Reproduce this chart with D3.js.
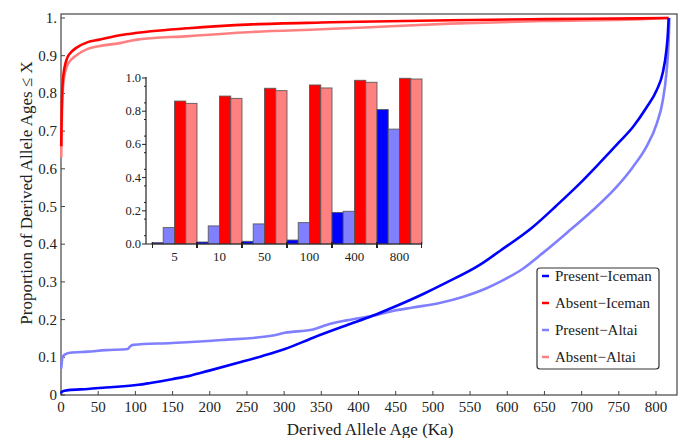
<!DOCTYPE html>
<html><head><meta charset="utf-8">
<script src="https://cdn.jsdelivr.net/npm/d3@7"></script>
<style>body{margin:0;background:#fff}svg{display:block}</style>
</head><body><svg id="c" width="683" height="438"></svg>
<script>
const seriesNames = ["Present\u2212Iceman","Absent\u2212Iceman","Present\u2212Altai","Absent\u2212Altai"];
const colors = ["#0000ff","#ff0000","#8080ff","#ff8080"];
const presentIceman = [[0.3,0.004],[1,0.009],[10,0.013],[36,0.016],[60,0.02],[104,0.027],[120,0.032],[149,0.042],[175,0.052],[198,0.064],[243,0.088],[270,0.103],[301,0.122],[339,0.152],[384,0.185],[419,0.21],[446,0.232],[487,0.268],[518,0.298],[563,0.345],[590,0.382],[634,0.445],[666,0.502],[697,0.56],[724,0.615],[751,0.672],[769,0.711],[787,0.762],[801,0.809],[809,0.854],[814,0.915],[816,0.96],[817,1.0]];
const absentIceman = [[0.3,0.66],[1,0.76],[2,0.82],[4,0.86],[6,0.88],[9,0.897],[14,0.91],[20,0.92],[36,0.936],[50,0.942],[81,0.955],[100,0.96],[171,0.973],[257,0.983],[350,0.988],[400,0.99],[523,0.994],[650,0.997],[780,0.999],[817,1.0]];
const presentAltai = [[0.3,0.07],[2,0.1],[5,0.107],[12,0.112],[36,0.115],[60,0.119],[90,0.122],[92,0.127],[97,0.133],[149,0.138],[216,0.146],[283,0.157],[301,0.165],[339,0.174],[357,0.186],[384,0.198],[419,0.21],[446,0.223],[473,0.232],[509,0.244],[540,0.26],[572,0.283],[590,0.3],[621,0.335],[648,0.377],[680,0.43],[715,0.49],[747,0.552],[769,0.605],[787,0.658],[801,0.72],[809,0.78],[814,0.854],[817,0.94],[818,1.0]];
const absentAltai = [[0.3,0.63],[1,0.72],[2,0.79],[4,0.84],[6,0.86],[9,0.877],[14,0.89],[20,0.9],[36,0.918],[50,0.925],[81,0.934],[100,0.942],[171,0.952],[257,0.963],[350,0.97],[400,0.974],[523,0.985],[650,0.992],[780,0.997],[817,1.0]];
const xTicks = [0,50,100,150,200,250,300,350,400,450,500,550,600,650,700,750,800];
const yTicks = [0,0.1,0.2,0.3,0.4,0.5,0.6,0.7,0.8,0.9,1];
const yTickLabels = ["0","0.1","0.2","0.3","0.4","0.5","0.6","0.7","0.8","0.9","1."];
const insetCats = ["5","10","50","100","400","800"];
const barPresentIceman = [0.008,0.012,0.016,0.024,0.19,0.81];
const barPresentAltai = [0.099,0.109,0.121,0.129,0.197,0.692];
const barAbsentIceman = [0.861,0.891,0.938,0.958,0.986,0.998];
const barAbsentAltai = [0.847,0.877,0.924,0.94,0.974,0.994];
const insetYTicks = [0,0.2,0.4,0.6,0.8,1.0];

const svg = d3.select("#c");
const FF = "Liberation Serif";
const L=61, R=677, T=14, B=395;
const x = d3.scaleLinear().domain([0,800]).range([L,L+595]);
const y = d3.scaleLinear().domain([0,1]).range([B,B-377]);
const tc = "#222";
function txt(g){ return g.append("text").style("font-family",FF).attr("fill",tc); }

svg.append("rect").attr("x",L).attr("y",T).attr("width",R-L).attr("height",B-T)
  .attr("fill","none").attr("stroke","#444").attr("stroke-width",1.2);

const gx = svg.append("g");
xTicks.forEach(v=>{
  gx.append("line").attr("x1",x(v)).attr("x2",x(v)).attr("y1",B).attr("y2",B-4).attr("stroke","#444");
  txt(gx).attr("x",x(v)).attr("y",B+17).attr("text-anchor","middle").attr("font-size",15).text(v);
});
yTicks.forEach((v,i)=>{
  gx.append("line").attr("x1",L).attr("x2",L+4).attr("y1",y(v)).attr("y2",y(v)).attr("stroke","#444");
  txt(gx).attr("x",L-4).attr("y",y(v)+5).attr("text-anchor","end").attr("font-size",15).text(yTickLabels[i]);
});
txt(svg).attr("x",370).attr("y",435).attr("text-anchor","middle").attr("font-size",17).text("Derived Allele Age (Ka)");
txt(svg).attr("transform","translate(32,193) rotate(-90)").attr("text-anchor","middle").attr("font-size",17).text("Proportion of Derived Allele Ages \u2264 X");

const line = d3.line().x(d=>x(d[0])).y(d=>y(d[1])).curve(d3.curveMonotoneX);
const curves = [presentIceman, absentIceman, presentAltai, absentAltai];
[3,1,2,0].forEach(i=>{
  svg.append("path").attr("d",line(curves[i])).attr("fill","none").attr("stroke",colors[i]).attr("stroke-width",2.6).attr("stroke-linejoin","round");
});

const iL=146, iR=421, iB=244;
const bx = d3.scaleBand().domain(insetCats).range([152,422]).padding(0);
const by = d3.scaleLinear().domain([0,1]).range([iB,78]);
const sub = d3.scaleBand().domain([0,1,2,3]).range([0,bx.bandwidth()]);
const barSets = [barPresentIceman, barPresentAltai, barAbsentIceman, barAbsentAltai];
const barColors = [colors[0],colors[2],colors[1],colors[3]];
const gi = svg.append("g");
insetCats.forEach((c,ci)=>{
  barSets.forEach((s,si)=>{
    gi.append("rect").attr("x",bx(c)+sub(si)).attr("y",by(s[ci])).attr("width",sub.bandwidth()).attr("height",iB-by(s[ci]))
      .attr("fill",barColors[si]).attr("stroke","#555").attr("stroke-opacity",0.85).attr("stroke-width",1);
  });
});
gi.append("line").attr("x1",iL).attr("x2",iR).attr("y1",iB).attr("y2",iB).attr("stroke","#222").attr("stroke-width",1.2);
gi.append("line").attr("x1",iL).attr("x2",iL).attr("y1",iB).attr("y2",77).attr("stroke","#222").attr("stroke-width",1.2);
insetYTicks.forEach(v=>{
  gi.append("line").attr("x1",iL-4).attr("x2",iL).attr("y1",by(v)).attr("y2",by(v)).attr("stroke","#222");
  txt(gi).attr("x",iL-5).attr("y",by(v)+4).attr("text-anchor","end").attr("font-size",12.5).text(d3.format(".1f")(v));
});
d3.range(0.05,1,0.1).forEach(v=>{
  gi.append("line").attr("x1",iL-2).attr("x2",iL).attr("y1",by(v)).attr("y2",by(v)).attr("stroke","#222");
});
insetCats.forEach((c,ci)=>{
  txt(gi).attr("x",bx(c)+bx.bandwidth()/2).attr("y",iB+17).attr("text-anchor","middle").attr("font-size",13).text(c);
  [bx(c)+0.5, bx(c)+bx.bandwidth()-0.5].forEach(px=>{
    gi.append("line").attr("x1",px).attr("x2",px).attr("y1",iB-2).attr("y2",iB+4).attr("stroke","#222");
  });
});

const lg = svg.append("g");
lg.append("rect").attr("x",537).attr("y",268).attr("width",122).attr("height",101).attr("rx",3)
  .attr("fill","#fff").attr("stroke","#333").attr("stroke-width",1.2);
seriesNames.forEach((n,i)=>{
  const yy = 276 + i*27;
  lg.append("line").attr("x1",542).attr("x2",549).attr("y1",yy).attr("y2",yy).attr("stroke",colors[i]).attr("stroke-width",2.5);
  txt(lg).attr("x",555).attr("y",yy+5).attr("font-size",15).text(n);
});
</script></body></html>
